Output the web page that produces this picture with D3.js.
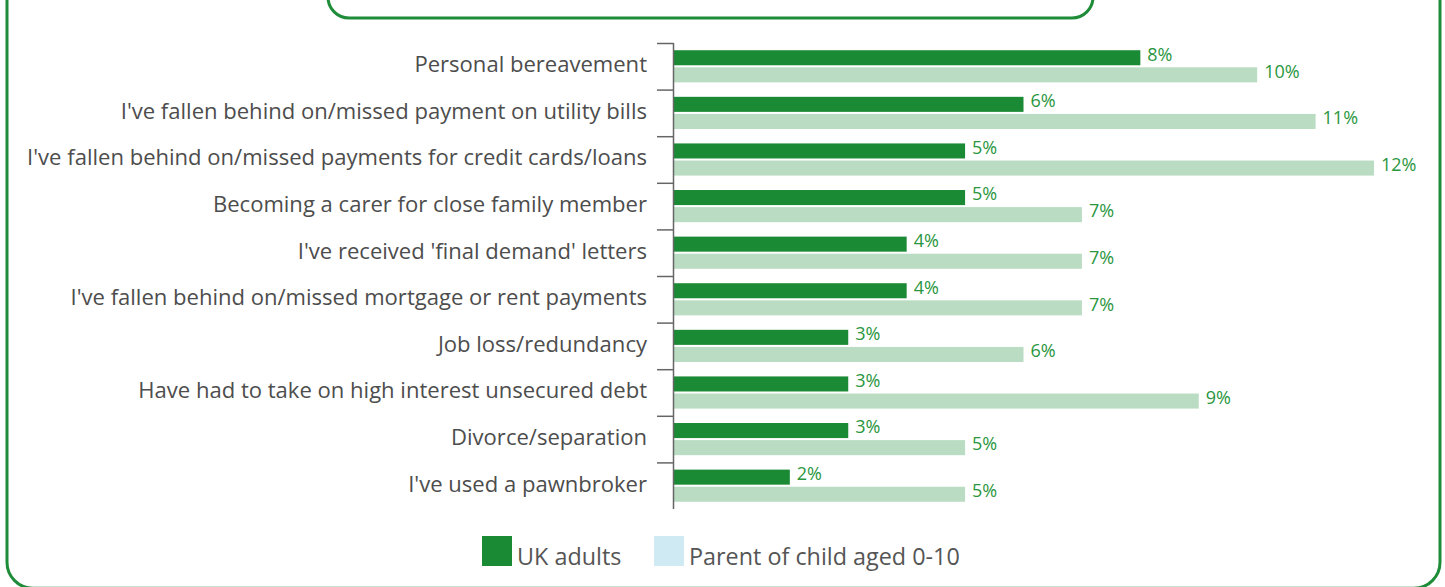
<!DOCTYPE html>
<html><head><meta charset="utf-8">
<script src="https://cdn.jsdelivr.net/npm/d3@7"></script>
<style>html,body{margin:0;padding:0;background:#fff;overflow:hidden}</style>
</head><body>
<svg id="chart" width="1445" height="587"></svg>
<script>
const categories = [
  "Personal bereavement",
  "I've fallen behind on/missed payment on utility bills",
  "I've fallen behind on/missed payments for credit cards/loans",
  "Becoming a carer for close family member",
  "I've received 'final demand' letters",
  "I've fallen behind on/missed mortgage or rent payments",
  "Job loss/redundancy",
  "Have had to take on high interest unsecured debt",
  "Divorce/separation",
  "I've used a pawnbroker"
];
const seriesNames = ["UK adults", "Parent of child aged 0-10"];
const ukAdults = [8, 6, 5, 5, 4, 4, 3, 3, 3, 2];
const parents = [10, 11, 12, 7, 7, 7, 6, 9, 5, 5];
const barColors = ["#1a8a34", "#b9dcc3"];
const legendColors = ["#1a8a34", "#cfeaf3"];

const svg = d3.select("#chart");
const green = "#1e8c38";
const labelFont = "'Open Sans', sans-serif";

// frames
svg.append("rect").attr("x", 7).attr("y", -40).attr("width", 1433).attr("height", 628.2)
  .attr("rx", 26).attr("fill", "none").attr("stroke", green).attr("stroke-width", 3);
svg.append("rect").attr("x", 328).attr("y", -40).attr("width", 765).attr("height", 58)
  .attr("rx", 21).attr("fill", "none").attr("stroke", green).attr("stroke-width", 3);

const axX = 673, axTop = 43, axBottom = 509;
const x = d3.scaleLinear().domain([0, 12]).range([axX, axX + 701]);
const y0 = d3.scaleBand().domain(categories).range([axTop, axBottom]).paddingInner(0.31).paddingOuter(0.155);
const y1 = d3.scaleBand().domain(seriesNames).range([0, y0.bandwidth()]).paddingInner(0.12);
const step = y0.step();

const rows = categories.map((c, i) => ({c, vals: [ukAdults[i], parents[i]]}));

const g = svg.append("g");
const grp = g.selectAll("g.row").data(rows).join("g").attr("class", "row")
  .attr("transform", d => `translate(0,${y0(d.c)})`);
grp.selectAll("rect").data(d => d.vals.map((v, k) => ({v, k}))).join("rect")
  .attr("x", x(0)).attr("y", d => y1(seriesNames[d.k]))
  .attr("width", d => x(d.v) - x(0)).attr("height", y1.bandwidth())
  .attr("fill", d => barColors[d.k]);
grp.selectAll("text").data(d => d.vals.map((v, k) => ({v, k}))).join("text")
  .attr("x", d => x(d.v) + 7).attr("y", d => y1(seriesNames[d.k]) + y1.bandwidth() / 2 - 2)
  .attr("dominant-baseline", "middle")
  .attr("font-family", "'Open Sans', sans-serif").attr("font-size", 18)
  .attr("fill", "#2a9640").text(d => d.v + "%");

// axis
const axisG = svg.append("g");
axisG.append("line").attr("x1", axX + 0.5).attr("x2", axX + 0.5).attr("y1", axTop).attr("y2", axBottom)
  .attr("stroke", "#666").attr("stroke-width", 1.5);
axisG.selectAll("line.tick").data(categories).join("line").attr("class", "tick")
  .attr("x1", axX - 16).attr("x2", axX + 0.5)
  .attr("y1", d => y0(d) - step * 0.155 + 0.5).attr("y2", d => y0(d) - step * 0.155 + 0.5)
  .attr("stroke", "#666").attr("stroke-width", 1.5);
const catLabels = axisG.selectAll("text").data(categories).join("text")
  .attr("x", 647).attr("y", d => y0(d) + y0.bandwidth() / 2)
  .attr("text-anchor", "end").attr("dominant-baseline", "middle")
  .attr("font-family", labelFont).attr("font-size", 20)
  .attr("fill", "#4d4d4d").text(d => d);
// fit longest label to the reference width
const maxW = d3.max(catLabels.nodes(), n => n.getComputedTextLength());
const fs = 20 * 620 / maxW;
catLabels.attr("font-size", fs);

// legend
const legX = [482, 654];
const leg = svg.append("g");
seriesNames.forEach((s, i) => {
  leg.append("rect").attr("x", legX[i]).attr("y", 536).attr("width", 30).attr("height", 30).attr("fill", legendColors[i]);
  leg.append("text").attr("x", legX[i] + 35).attr("y", 565).attr("font-family", labelFont)
    .attr("font-size", fs * 1.06).attr("fill", "#555").text(s);
});
</script>
</body></html>
